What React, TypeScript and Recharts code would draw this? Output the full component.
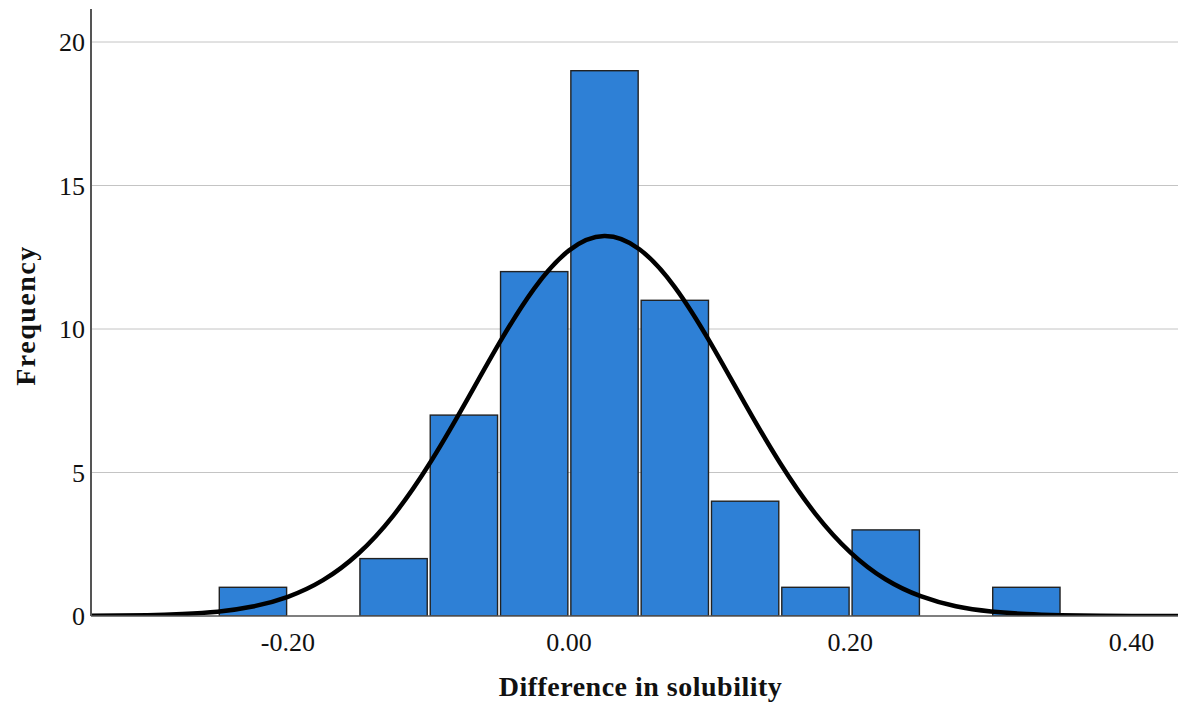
import { ComposedChart, Bar, Line, XAxis, YAxis, CartesianGrid } from 'recharts';

// histogram bins (centre of each 0.05 bin) and counts
const binCenters = [-0.225, -0.175, -0.125, -0.075, -0.025, 0.025, 0.075, 0.125, 0.175, 0.225, 0.275, 0.325];
const counts = [1, 0, 2, 7, 12, 19, 11, 4, 1, 3, 0, 1];

// normal curve
const curveX = [-0.34, -0.3, -0.275, -0.25, -0.225, -0.2, -0.175, -0.15, -0.125, -0.1, -0.075, -0.05, -0.025, 0, 0.025, 0.05, 0.075, 0.1, 0.125, 0.15, 0.175, 0.2, 0.225, 0.25, 0.275, 0.3, 0.325, 0.35, 0.4, 0.433];
const curveY = [0.01, 0.03, 0.07, 0.15, 0.33, 0.67, 1.25, 2.17, 3.5, 5.25, 7.32, 9.48, 11.4, 12.74, 13.24, 12.78, 11.47, 9.56, 7.4, 5.33, 3.57, 2.22, 1.28, 0.69, 0.34, 0.16, 0.07, 0.03, 0, 0];

const xTicks = [-0.2, 0, 0.2, 0.4];
const yTicks = [0, 5, 10, 15, 20];

const BIN_WIDTH = 0.05;
const X_MIN = -0.34;
const X_MAX = 0.433;
const Y_MAX = 21.15;

const CHART_W = 1178;
const CHART_H = 706;
const Y_AXIS_W = 91;
const X_AXIS_H = 90;
const TOP = 9;
const PLOT_H = CHART_H - X_AXIS_H - TOP;
const BIN_PX = ((CHART_W - Y_AXIS_W) * BIN_WIDTH) / (X_MAX - X_MIN);

const data = curveX.map((x, k) => {
  const i = binCenters.findIndex((c) => Math.abs(c - x) < 1e-9);
  return { x, density: curveY[k], count: i >= 0 ? counts[i] : null };
});

const FONT = '"Liberation Serif", "Times New Roman", serif';

const HistBar = (props: any) => {
  const { x, y, width, height, payload } = props;
  if (!payload || !payload.count) return null;
  const w = BIN_PX - 3;
  const cx = x + width / 2;
  return <rect x={cx - w / 2} y={y} width={w} height={height} fill="#2e80d6" stroke="#222" strokeWidth={1.4} />;
};

const XTitle = (props: any) => {
  const vb = props.viewBox;
  return (
    <text x={vb.x + vb.width / 2 + 6} y={vb.y + 80} textAnchor="middle" fontFamily={FONT} fontWeight="bold" fontSize={28} letterSpacing={0.5} fill="#111">
      Difference in solubility
    </text>
  );
};

const YTitle = (props: any) => {
  const vb = props.viewBox;
  const cx = vb.x + 25;
  const cy = vb.y + vb.height / 2 + 3;
  return (
    <text x={cx} y={cy} transform={`rotate(-90 ${cx} ${cy})`} textAnchor="middle" dominantBaseline="central" fontFamily={FONT} fontWeight="bold" fontSize={28} letterSpacing={1.5} fill="#111">
      Frequency
    </text>
  );
};

// grid lines only at the y ticks (no line along the top edge)
const gridRows = () => yTicks.filter((t) => t > 0).map((t) => TOP + PLOT_H * (1 - t / Y_MAX));

export default function App() {
  return (
    <div style={{ position: 'absolute', left: 0, top: 0, width: CHART_W, height: CHART_H, background: '#fff' }}>
      <ComposedChart width={CHART_W} height={CHART_H} data={data} margin={{ top: TOP, right: 0, left: 0, bottom: 0 }}>
        <CartesianGrid vertical={false} stroke="#c4c4c4" strokeWidth={1} horizontalCoordinatesGenerator={gridRows} />
        <XAxis
          type="number"
          dataKey="x"
          domain={[X_MIN, X_MAX]}
          ticks={xTicks}
          allowDataOverflow
          tickFormatter={(v: number) => v.toFixed(2)}
          height={X_AXIS_H}
          tickLine={false}
          tickSize={6}
          tickMargin={11}
          axisLine={{ stroke: '#555', strokeWidth: 1.5 }}
          tick={{ fontFamily: FONT, fontSize: 26, fill: '#111' }}
          label={<XTitle />}
        />
        <YAxis
          type="number"
          domain={[0, Y_MAX]}
          ticks={yTicks}
          allowDataOverflow
          width={Y_AXIS_W}
          tickLine={false}
          tickSize={4}
          tickMargin={2}
          axisLine={{ stroke: '#555', strokeWidth: 2 }}
          tick={{ fontFamily: FONT, fontSize: 26, fill: '#111' }}
          label={<YTitle />}
        />
        <Bar dataKey="count" barSize={BIN_PX - 3} shape={<HistBar />} isAnimationActive={false} />
        <Line type="natural" dataKey="density" stroke="#000" strokeWidth={4.5} dot={false} activeDot={false} connectNulls isAnimationActive={false} />
      </ComposedChart>
    </div>
  );
}
